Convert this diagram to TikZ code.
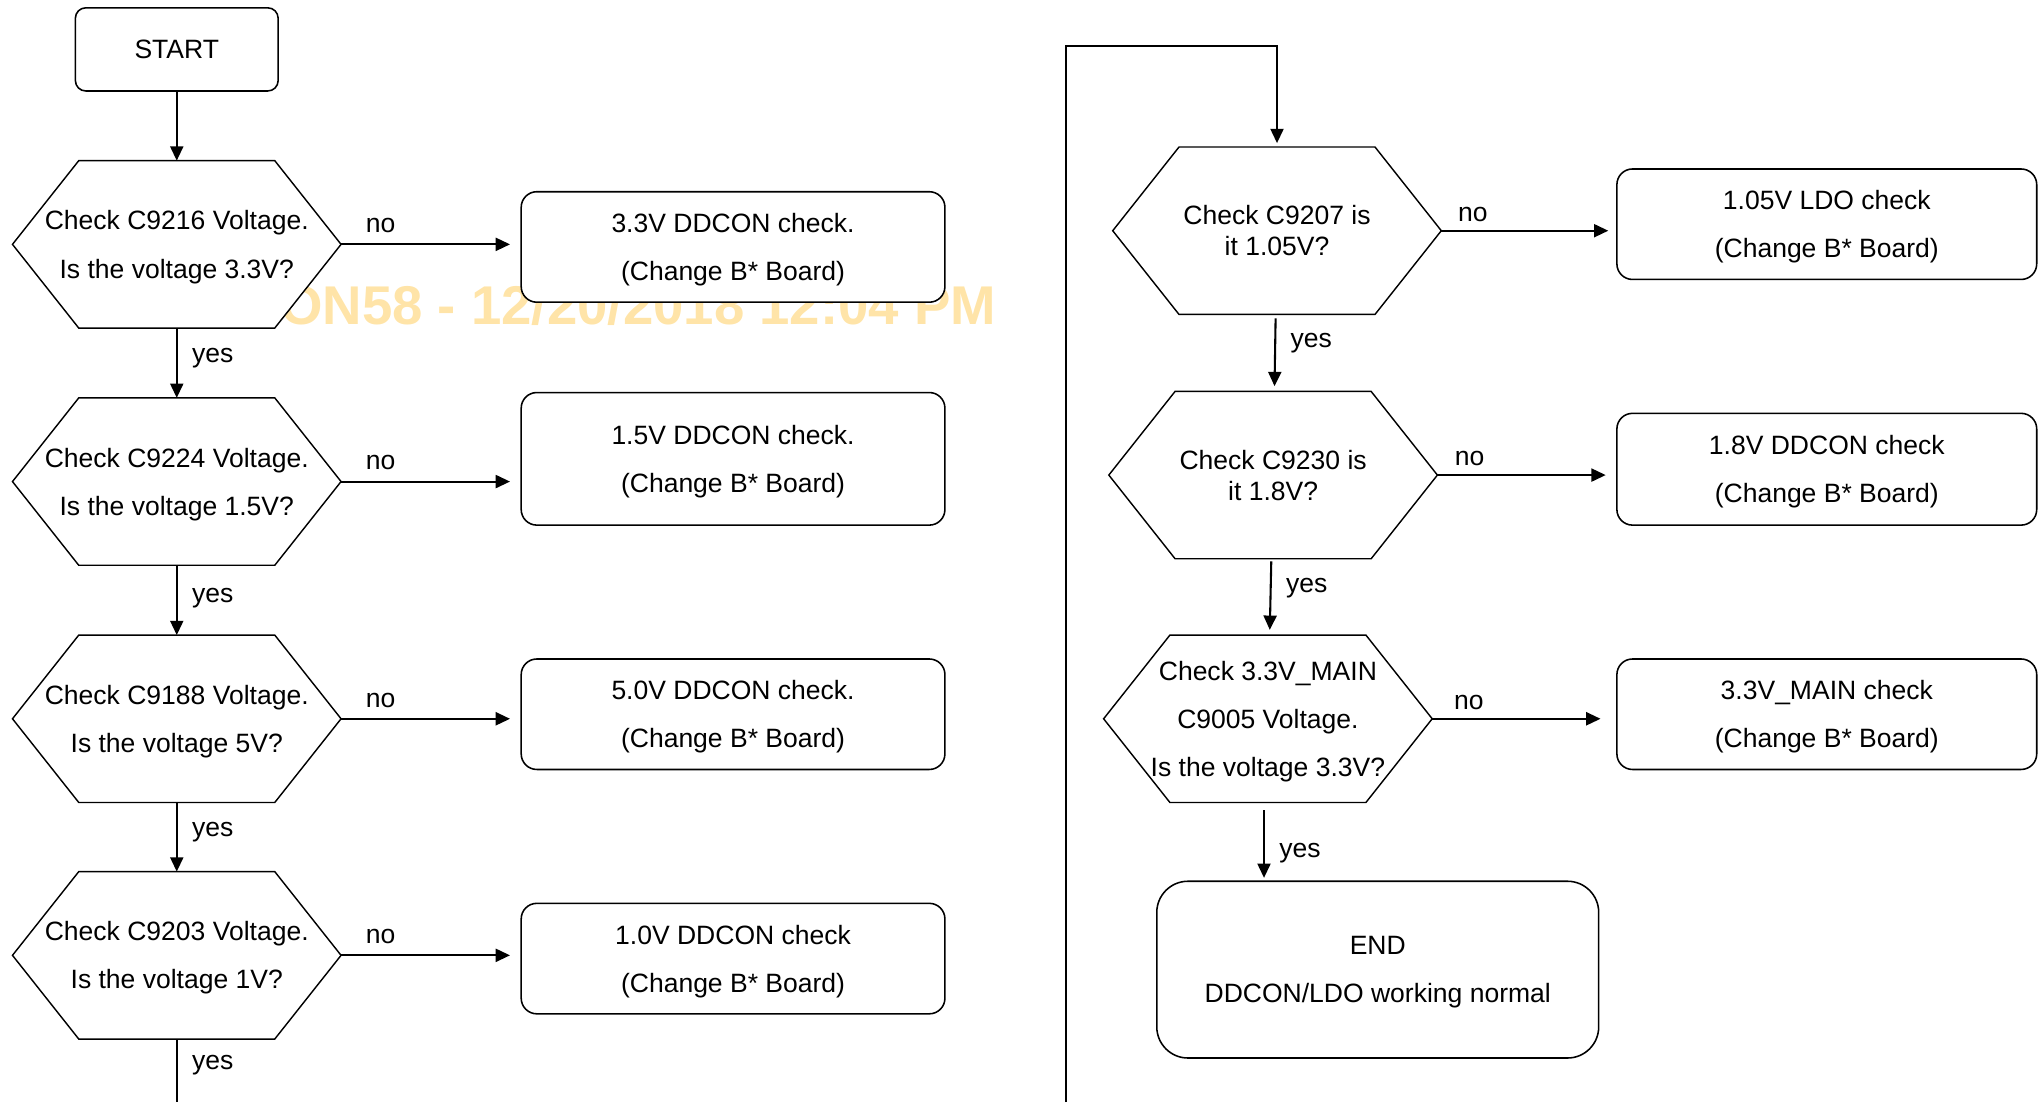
\documentclass[tikz,border=0pt]{standalone}
\usepackage{fontspec}
\setmainfont{Liberation Sans}
\usepackage{tikz}
\usetikzlibrary{arrows.meta, calc}
\definecolor{stampcol}{RGB}{255,228,168}
\pgfdeclarelayer{back}
\pgfsetlayers{back,main}
\newcommand\hexoutline[1]{%
  \draw[hexline] (#1.west) -- ([xshift=25.5pt]#1.north west) -- ([xshift=-25.5pt]#1.north east)
    -- (#1.east) -- ([xshift=-25.5pt]#1.south east) -- ([xshift=25.5pt]#1.south west) -- cycle;}

\begin{document}
\begin{tikzpicture}[x=0.5pt, y=-0.5pt,
    font=\fontsize{10.2}{18.5}\selectfont,
    dropped/.style={text depth=-0.9pt},
    hexnode/.style={minimum width=126pt, minimum height=64pt, inner sep=0pt, align=center, dropped},
    hexline/.style={draw, fill=white, line width=0.55pt},
    checkbox/.style={draw, fill=white, line width=0.6pt, rounded corners=6pt,
      minimum width=163pt, minimum height=42.5pt, inner sep=0pt, align=center},
    arr/.style={line width=0.8pt, -{Triangle[length=5.5pt, width=5pt]}},
    lbl/.style={inner sep=2pt}]
  \useasboundingbox (0,0) rectangle (1568,848);

  % watermark
  \begin{pgfonlayer}{back}
    \node[anchor=base east, text=stampcol, inner sep=0pt,
      font=\fontsize{21}{21}\selectfont\bfseries] (stamp) at (767,250) {ON58 - 12/20/2018 12:04 PM};
  \end{pgfonlayer}

  % left column
  \node[checkbox, rounded corners=4pt, minimum width=78pt, minimum height=32pt] (start) at (136,38) {START};
  \node[hexnode] (c9216) at (136,188) {Check C9216 Voltage.\\Is the voltage 3.3V?};
  \node[hexnode] (c9224) at (136,370.5) {Check C9224 Voltage.\\Is the voltage 1.5V?};
  \node[hexnode] (c9188) at (136,553) {Check C9188 Voltage.\\Is the voltage 5V?};
  \node[hexnode] (c9203) at (136,735) {Check C9203 Voltage.\\Is the voltage 1V?};
  \coordinate (leftfoot) at (136,848);

  \node[checkbox, dropped] (ddcon33) at (564,190) {3.3V DDCON check.\\(Change B* Board)};
  \node[checkbox, dropped, minimum height=51pt] (ddcon15) at (564,353) {1.5V DDCON check.\\(Change B* Board)};
  \node[checkbox, dropped] (ddcon50) at (564,549.5) {5.0V DDCON check.\\(Change B* Board)};
  \node[checkbox, dropped] (ddcon10) at (564,737.5) {1.0V DDCON check\\(Change B* Board)};

  % right column
  \node[hexnode, font=\fontsize{10.2}{12}\selectfont] (c9207) at (982.5,177.5) {Check C9207 is\\it 1.05V?};
  \node[hexnode, font=\fontsize{10.2}{12}\selectfont] (c9230) at (979.5,365.5) {Check C9230 is\\it 1.8V?};
  \node[hexnode] (c9005) at (975.5,553) {Check 3.3V\_MAIN\\C9005 Voltage.\\Is the voltage 3.3V?};
  \coordinate (loopfoot) at (820,848);

  \node[checkbox, dropped, minimum width=161.5pt] (ldo105) at (1405.5,172.5) {1.05V LDO check\\(Change B* Board)};
  \node[checkbox, dropped, minimum width=161.5pt, minimum height=43pt] (ddcon18) at (1405.5,361) {1.8V DDCON check\\(Change B* Board)};
  \node[checkbox, dropped, minimum width=161.5pt] (main33) at (1405.5,549.5) {3.3V\_MAIN check\\(Change B* Board)};
  \node[checkbox, dropped, rounded corners=12pt, minimum width=170pt, minimum height=68pt] (finish) at (1060,746)
    {END\\DDCON/LDO working normal};

  % hexagon outlines
  \begin{pgfonlayer}{back}
    \foreach \h in {c9216,c9224,c9188,c9203,c9207,c9230,c9005} {\hexoutline{\h}}
  \end{pgfonlayer}

  % yes path
  \draw[arr] (start) -- (c9216);
  \draw[arr] (c9216) -- node[lbl, right=3.5pt, pos=0.37, yshift=-1.5pt] {yes} (c9224);
  \draw[arr] (c9224) -- node[lbl, right=3.5pt, pos=0.41, yshift=-1.5pt] {yes} (c9188);
  \draw[arr] (c9188) -- node[lbl, right=3.5pt, pos=0.37, yshift=-1.5pt] {yes} (c9203);
  \draw[line width=0.8pt] (c9203) -- node[lbl, right=3.5pt, pos=0.35, yshift=-1.5pt] {yes} (leftfoot);
  \draw[arr, shorten >=1.5pt] (loopfoot) |- ([yshift=39pt]c9207.north) -- (c9207.north);
  \draw[arr, shorten <=1.5pt, shorten >=2pt] (c9207) -- node[lbl, right=3.5pt, pos=0.31, yshift=-2pt] {yes} (c9230);
  \draw[arr, shorten <=1pt, shorten >=2pt] (c9230) -- node[lbl, right=3.5pt, pos=0.32, yshift=-2pt] {yes} (c9005);
  \draw[arr, shorten <=3pt, shorten >=1pt] ([xshift=-1.5pt]c9005.south)
    -- node[lbl, right=3.5pt, pos=0.58, yshift=-2pt] {yes} ([xshift=-1.5pt]c9005.south |- finish.north);

  % no path
  \draw[arr, shorten >=4pt] (c9216.east) -- node[lbl, above=2pt, pos=0.22] {no} (c9216.east -| ddcon33.west);
  \draw[arr, shorten >=4pt] (c9224.east) -- node[lbl, above=2pt, pos=0.22] {no} (c9224.east -| ddcon15.west);
  \draw[arr, shorten >=4pt] (c9188.east) -- node[lbl, above=2pt, pos=0.22] {no} (c9188.east -| ddcon50.west);
  \draw[arr, shorten >=4pt] (c9203.east) -- node[lbl, above=2pt, pos=0.22] {no} (c9203.east -| ddcon10.west);
  \draw[arr, shorten >=3pt] (c9207.east) -- node[lbl, above=1pt, pos=0.18] {no} (c9207.east -| ldo105.west);
  \draw[arr, shorten >=4pt] (c9230.east) -- node[lbl, above=1pt, pos=0.18] {no} (c9230.east -| ddcon18.west);
  \draw[arr, shorten >=6pt] (c9005.east) -- node[lbl, above=1pt, pos=0.2] {no} (c9005.east -| main33.west);
\end{tikzpicture}
\end{document}
